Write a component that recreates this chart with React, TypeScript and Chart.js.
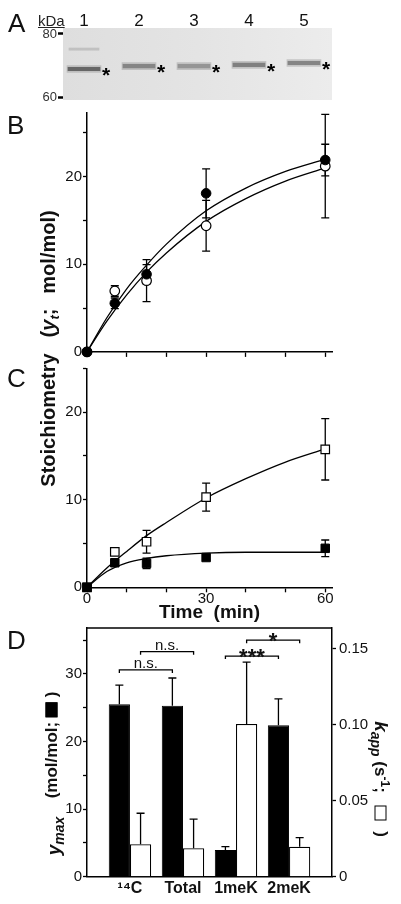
import React, { useEffect, useRef } from 'react';
import { Chart, registerables } from 'chart.js';

Chart.register(...registerables);

const FONT = "Arial, 'Liberation Sans', Helvetica, sans-serif";
Chart.defaults.font.family = FONT;

// ---------- Panel A (gel) ----------
const laneNumbers = [1, 2, 3, 4, 5];
const bandKDa = [68.9, 69.8, 69.8, 70.2, 70.8];
const faintBandLanes = [1];
const faintBandKDa = [75.2];
const kDaTicks = [60, 80];

// ---------- Panel B ----------
const timePointsB = [0, 7, 15, 30, 60];
const c14Stoich = [0, 5.55, 8.86, 18.1, 21.9];
const c14StoichErr = [0, 0.6, 1.1, 2.8, 1.8];
const totalStoich = [0, 6.95, 8.13, 14.4, 21.2];
const totalStoichErr = [0, 0.6, 2.4, 2.9, 5.9];
const fitTimes = [0, 5, 10, 15, 20, 30, 40, 50, 60];
const c14Fit = [0, 3.9, 7.2, 9.9, 12.3, 16.1, 18.7, 20.6, 22.0];
const totalFit = [0, 3.5, 6.5, 9.1, 11.3, 14.9, 17.5, 19.5, 21.0];

// ---------- Panel C ----------
const timePointsC = [0, 7, 15, 30, 60];
const meK2Stoich = [0, 4.05, 5.2, 10.3, 15.75];
const meK2StoichErr = [0, 0.2, 1.3, 1.6, 3.5];
const meK1Stoich = [0, 2.8, 2.73, 3.4, 4.45];
const meK1StoichErr = [0, 0.2, 0.6, 0.3, 0.95];
const meK2Fit = [0, 2.2, 4.1, 5.9, 7.4, 10.2, 12.4, 14.3, 15.8];
const meK1Fit = [0, 1.8, 2.8, 3.3, 3.6, 3.9, 4.0, 4.0, 4.0];

// shared tick values
const timeTicks = [0, 10, 20, 30, 40, 50, 60];
const stoichTicks = [0, 5, 10, 15, 20, 25];

// ---------- Panel D ----------
const dCategories = ['¹⁴C', 'Total', '1meK', '2meK'];
const yMaxValues = [25.5, 25.3, 3.95, 22.4];
const yMaxErr = [2.85, 4.1, 0.5, 3.9];
const kAppValues = [0.0213, 0.0187, 0.1003, 0.0197];
const kAppErr = [0.0204, 0.0191, 0.0407, 0.006];
const yMaxTicks = [0, 5, 10, 15, 20, 25, 30, 35];
const kAppTicks = [0, 0.05, 0.1, 0.15];
const bracketFrom = [0, 0, 2, 2];
const bracketTo = [1, 1, 3, 3];
const bracketSeries = [0, 1, 0, 1];
const bracketLevel = [30.6, 33.3, 32.65, 35.0];
const bracketLabels = ['n.s.', 'n.s.', '***', '*'];

// ---------- helpers ----------
const toXY = (xs: number[], ys: number[]) => xs.map((x, i) => ({ x, y: ys[i] }));
const noPad = (s: any) => {
  s.paddingTop = 0;
  s.paddingBottom = 0;
  s.paddingLeft = 0;
  s.paddingRight = 0;
};
const fixWidth = (w: number) => (s: any) => {
  s.width = w;
  noPad(s);
};
const fixHeight = (h: number) => (s: any) => {
  s.height = h;
  noPad(s);
};
const setTicks = (vals: number[]) => (s: any) => {
  s.ticks = vals.map((v) => ({ value: v }));
};
const tenLabels = (v: any) => (Math.abs(v % 10) < 1e-9 ? String(v) : '');

const axisGrid = (len: number) => ({
  display: true,
  drawOnChartArea: false,
  drawTicks: true,
  tickLength: len,
  tickWidth: 1.3,
  tickColor: '#000',
  color: '#000',
});
const axisBorder = { display: true, color: '#000', width: 1.5 };

function errorBarPlugin(id: string, layer: 'before' | 'after') {
  const draw = (chart: any) => {
    const ctx = chart.ctx;
    chart.data.datasets.forEach((ds: any, di: number) => {
      if (!ds.errors) return;
      const meta = chart.getDatasetMeta(di);
      const yScale = chart.scales[meta.yAxisID];
      ctx.save();
      ctx.strokeStyle = '#000';
      ctx.lineWidth = 1.3;
      const cap = 4;
      meta.data.forEach((el: any, i: number) => {
        const e = ds.errors[i];
        if (!e) return;
        const raw = ds.data[i];
        const v = typeof raw === 'number' ? raw : raw.y;
        const top = yScale.getPixelForValue(v + e);
        const bottom = yScale.getPixelForValue(ds.upOnly ? v : v - e);
        const x = el.x;
        ctx.beginPath();
        ctx.moveTo(x, top);
        ctx.lineTo(x, bottom);
        ctx.moveTo(x - cap, top);
        ctx.lineTo(x + cap, top);
        if (!ds.upOnly) {
          ctx.moveTo(x - cap, bottom);
          ctx.lineTo(x + cap, bottom);
        }
        ctx.stroke();
      });
      ctx.restore();
    });
  };
  return layer === 'before'
    ? { id, beforeDatasetsDraw: draw }
    : { id, afterDatasetsDraw: draw };
}

const gelPlugin = {
  id: 'gelBackground',
  beforeDatasetsDraw(chart: any) {
    const { ctx, chartArea: a } = chart;
    ctx.save();
    const g = ctx.createLinearGradient(a.left, 0, a.right, 0);
    g.addColorStop(0, '#dedede');
    g.addColorStop(0.5, '#e4e4e4');
    g.addColorStop(1, '#ececec');
    ctx.fillStyle = g;
    ctx.fillRect(a.left, a.top, a.right - a.left, a.bottom - a.top);
    ctx.restore();
  },
  afterDatasetsDraw(chart: any) {
    const ctx = chart.ctx;
    const meta = chart.getDatasetMeta(1);
    ctx.save();
    ctx.fillStyle = '#000';
    ctx.font = `bold 21px ${FONT}`;
    ctx.textAlign = 'left';
    ctx.textBaseline = 'alphabetic';
    meta.data.forEach((el: any) => {
      const cy = (el.y + el.base) / 2;
      ctx.fillText('*', el.x + el.width / 2 + 2, cy + 13);
    });
    ctx.restore();
  },
};

const boxTopPlugin = {
  id: 'boxTop',
  afterDraw(chart: any) {
    const { ctx, chartArea: a } = chart;
    ctx.save();
    ctx.strokeStyle = '#000';
    ctx.lineWidth = 1.5;
    ctx.beginPath();
    ctx.moveTo(a.left, a.top);
    ctx.lineTo(a.right, a.top);
    ctx.stroke();
    ctx.restore();
  },
};

const bracketPlugin = {
  id: 'sigBrackets',
  afterDatasetsDraw(chart: any) {
    const ctx = chart.ctx;
    const yScale = chart.scales.y;
    ctx.save();
    ctx.strokeStyle = '#000';
    ctx.fillStyle = '#111';
    ctx.lineWidth = 1.3;
    bracketLabels.forEach((label, k) => {
      const meta = chart.getDatasetMeta(bracketSeries[k]);
      const x1 = meta.data[bracketFrom[k]].x;
      const x2 = meta.data[bracketTo[k]].x;
      const y = yScale.getPixelForValue(bracketLevel[k]);
      ctx.beginPath();
      ctx.moveTo(x1, y + 3);
      ctx.lineTo(x1, y);
      ctx.lineTo(x2, y);
      ctx.lineTo(x2, y + 3);
      ctx.stroke();
      const star = label.includes('*');
      ctx.font = star ? `bold 22px ${FONT}` : `15px ${FONT}`;
      ctx.textAlign = 'center';
      ctx.textBaseline = 'alphabetic';
      ctx.fillText(label, (x1 + x2) / 2, star ? y + 7.5 : y - 2);
    });
    ctx.restore();
  },
};

const baseOptions = {
  responsive: false,
  maintainAspectRatio: false,
  animation: false as const,
  events: [] as any[],
};
const noLegend = { legend: { display: false }, tooltip: { enabled: false } };

function configA(): any {
  return {
    type: 'bar',
    data: {
      datasets: [
        {
          label: 'halo',
          data: laneNumbers.map((l, i) => ({ x: l, y: [bandKDa[i] - 1.1, bandKDa[i] + 1.1] })),
          backgroundColor: 'rgba(150,150,150,0.45)',
          barThickness: 34,
          grouped: false,
          order: 2,
        },
        {
          label: 'band',
          data: laneNumbers.map((l, i) => ({ x: l, y: [bandKDa[i] - 0.55, bandKDa[i] + 0.55] })),
          backgroundColor: ['#666', '#858585', '#959595', '#808080', '#858585'],
          barThickness: 32,
          grouped: false,
          order: 1,
        },
        {
          label: 'faint',
          data: faintBandLanes.map((l, i) => ({ x: l, y: [faintBandKDa[i] - 0.35, faintBandKDa[i] + 0.35] })),
          backgroundColor: 'rgba(180,180,180,0.7)',
          barThickness: 30,
          grouped: false,
          order: 3,
        },
      ],
    },
    options: {
      ...baseOptions,
      layout: { padding: { left: 0, right: 69, top: 0, bottom: 10 }, autoPadding: false },
      plugins: noLegend,
      scales: {
        x: {
          type: 'linear',
          position: 'top',
          min: 0.618,
          max: 5.51,
          offset: false,
          afterBuildTicks: setTicks(laneNumbers),
          afterFit: fixHeight(28),
          grid: { display: false, drawTicks: false, offset: false },
          border: { display: false },
          ticks: { autoSkip: false, maxRotation: 0, font: { size: 17, lineHeight: 1 }, color: '#111', padding: -2, callback: (v: any) => String(v) },
        },
        y: {
          min: 59.05,
          max: 81.9,
          afterBuildTicks: setTicks(kDaTicks),
          afterFit: fixWidth(63),
          grid: { display: true, drawOnChartArea: false, tickLength: 5, tickWidth: 2.5, tickColor: '#000', color: '#000' },
          border: { display: false },
          ticks: { autoSkip: false, font: { size: 13, lineHeight: 1 }, color: '#333', padding: 1 },
        },
      },
    },
    plugins: [gelPlugin],
  };
}

function configB(): any {
  return {
    type: 'scatter',
    data: {
      datasets: [
        { label: '14C', data: toXY(timePointsB, c14Stoich), errors: c14StoichErr, pointStyle: 'circle', pointRadius: 4.8, backgroundColor: '#000', borderColor: '#000', borderWidth: 1, order: 0, clip: false },
        { label: 'Total', data: toXY(timePointsB, totalStoich), errors: totalStoichErr, pointStyle: 'circle', pointRadius: 4.8, backgroundColor: '#fff', borderColor: '#000', borderWidth: 1.2, order: 1, clip: false },
        { label: '14C fit', data: toXY(fitTimes, c14Fit), showLine: true, pointRadius: 0, borderColor: '#000', borderWidth: 1.3, cubicInterpolationMode: 'monotone', order: 2, clip: false },
        { label: 'Total fit', data: toXY(fitTimes, totalFit), showLine: true, pointRadius: 0, borderColor: '#000', borderWidth: 1.3, cubicInterpolationMode: 'monotone', order: 3, clip: false },
      ],
    },
    options: {
      ...baseOptions,
      layout: { padding: { left: 0, right: 69, top: 12.7, bottom: 0 }, autoPadding: false },
      plugins: noLegend,
      scales: {
        x: {
          type: 'linear',
          min: 0,
          max: 61.7,
          afterBuildTicks: setTicks(timeTicks),
          afterFit: fixHeight(8.1),
          grid: axisGrid(5),
          border: axisBorder,
          ticks: { autoSkip: false, maxRotation: 0, callback: () => '', padding: 0 },
        },
        y: {
          type: 'linear',
          min: 0,
          max: 27.3,
          afterBuildTicks: setTicks(stoichTicks),
          afterFit: fixWidth(87),
          grid: axisGrid(4),
          border: axisBorder,
          ticks: { autoSkip: false, font: { size: 15, lineHeight: 1 }, color: '#111', padding: 1, callback: tenLabels },
        },
      },
    },
    plugins: [errorBarPlugin('errB', 'before')],
  };
}

function configC(): any {
  return {
    type: 'scatter',
    data: {
      datasets: [
        { label: '1meK', data: toXY(timePointsC, meK1Stoich), errors: meK1StoichErr, pointStyle: 'rect', pointRadius: 6, backgroundColor: '#000', borderColor: '#000', borderWidth: 1, order: 0, clip: false },
        { label: '2meK', data: toXY(timePointsC, meK2Stoich), errors: meK2StoichErr, pointStyle: 'rect', pointRadius: 6, backgroundColor: '#fff', borderColor: '#000', borderWidth: 1.2, order: 1, clip: false },
        { label: '2meK fit', data: toXY(fitTimes, meK2Fit), showLine: true, pointRadius: 0, borderColor: '#000', borderWidth: 1.3, cubicInterpolationMode: 'monotone', order: 2, clip: false },
        { label: '1meK fit', data: toXY(fitTimes, meK1Fit), showLine: true, pointRadius: 0, borderColor: '#000', borderWidth: 1.3, cubicInterpolationMode: 'monotone', order: 3, clip: false },
      ],
    },
    options: {
      ...baseOptions,
      layout: { padding: { left: 0, right: 69, top: 8.3, bottom: 0 }, autoPadding: false },
      plugins: noLegend,
      scales: {
        x: {
          type: 'linear',
          min: 0,
          max: 61.7,
          afterBuildTicks: setTicks(timeTicks),
          afterFit: fixHeight(34.7),
          grid: axisGrid(5),
          border: axisBorder,
          title: { display: true, text: 'Time  (min)', font: { size: 19, weight: 'bold', lineHeight: 1 }, color: '#111', padding: { top: 0, bottom: 0 } },
          ticks: { autoSkip: false, maxRotation: 0, font: { size: 15, lineHeight: 1 }, color: '#111', padding: -1, callback: (v: any) => (v % 30 === 0 ? String(v) : '') },
        },
        y: {
          type: 'linear',
          min: 0,
          max: 25,
          afterBuildTicks: setTicks(stoichTicks),
          afterFit: fixWidth(87),
          grid: axisGrid(4),
          border: axisBorder,
          ticks: { autoSkip: false, font: { size: 15, lineHeight: 1 }, color: '#111', padding: 1, callback: tenLabels },
        },
      },
    },
    plugins: [errorBarPlugin('errC', 'before')],
  };
}

function configD(): any {
  const pos = dCategories.map((_, i) => i + 1);
  return {
    type: 'bar',
    data: {
      datasets: [
        { label: 'y_max', data: toXY(pos, yMaxValues), errors: yMaxErr, upOnly: true, yAxisID: 'y', backgroundColor: '#000', borderColor: '#000', borderWidth: 1, categoryPercentage: 0.8, barPercentage: 1 },
        { label: 'k_app', data: toXY(pos, kAppValues), errors: kAppErr, upOnly: true, yAxisID: 'y2', backgroundColor: '#fff', borderColor: '#000', borderWidth: 1.2, categoryPercentage: 0.8, barPercentage: 1 },
      ],
    },
    options: {
      ...baseOptions,
      layout: { padding: { left: 0, right: 0, top: 8, bottom: 0 }, autoPadding: false },
      plugins: noLegend,
      scales: {
        x: {
          type: 'linear',
          min: 0.19,
          max: 4.81,
          offset: false,
          afterBuildTicks: setTicks(pos),
          afterFit: fixHeight(27.3),
          grid: { display: false, drawTicks: false, offset: false },
          border: axisBorder,
          ticks: { autoSkip: false, maxRotation: 0, font: { size: 16, weight: 'bold', lineHeight: 1 }, color: '#111', padding: 4, callback: (v: any) => dCategories[Math.round(v) - 1] },
        },
        y: {
          type: 'linear',
          position: 'left',
          min: 0,
          max: 36.8,
          afterBuildTicks: setTicks(yMaxTicks),
          afterFit: fixWidth(87),
          grid: axisGrid(4),
          border: axisBorder,
          ticks: { autoSkip: false, font: { size: 15, lineHeight: 1 }, color: '#111', padding: 1, callback: tenLabels },
        },
        y2: {
          type: 'linear',
          position: 'right',
          min: 0,
          max: 0.1634,
          afterBuildTicks: setTicks(kAppTicks),
          afterFit: fixWidth(69),
          grid: axisGrid(4),
          border: axisBorder,
          ticks: { autoSkip: false, font: { size: 15, lineHeight: 1 }, color: '#111', padding: 3, callback: (v: any) => (v === 0 ? '0' : Number(v).toFixed(2)) },
        },
      },
    },
    plugins: [errorBarPlugin('errD', 'after'), bracketPlugin, boxTopPlugin],
  };
}

const RotText = ({ cx, cy, rot, size, weight, children }: any) => (
  <div
    style={{
      position: 'absolute',
      left: cx,
      top: cy,
      transform: `translate(-50%, -50%) rotate(${rot}deg)`,
      whiteSpace: 'nowrap',
      fontSize: size,
      fontWeight: weight ?? 'bold',
      lineHeight: 1,
      fontFamily: FONT,
      color: '#111',
    }}
  >
    {children}
  </div>
);

const Letter = ({ left, top, children }: any) => (
  <div style={{ position: 'absolute', left, top, fontSize: 26, lineHeight: 1, fontFamily: FONT, color: '#111' }}>{children}</div>
);

const keyBox = (fill: string) => (
  <span
    style={{
      display: 'inline-block',
      width: 15,
      height: 12,
      background: fill,
      border: '1.3px solid #000',
      verticalAlign: '-1px',
      boxSizing: 'border-box',
    }}
  />
);

export default function App() {
  const refA = useRef<HTMLCanvasElement>(null);
  const refB = useRef<HTMLCanvasElement>(null);
  const refC = useRef<HTMLCanvasElement>(null);
  const refD = useRef<HTMLCanvasElement>(null);

  useEffect(() => {
    const charts: Chart[] = [];
    if (refA.current) charts.push(new Chart(refA.current, configA()));
    if (refB.current) charts.push(new Chart(refB.current, configB()));
    if (refC.current) charts.push(new Chart(refC.current, configC()));
    if (refD.current) charts.push(new Chart(refD.current, configD()));
    return () => charts.forEach((c) => c.destroy());
  }, []);

  const cv = (top: number): React.CSSProperties => ({ position: 'absolute', left: 0, top, display: 'block' });

  return (
    <div style={{ position: 'absolute', left: 0, top: 0, width: 401, height: 904, background: '#fff', overflow: 'hidden', fontFamily: FONT }}>
      <canvas ref={refA} width={401} height={110} style={cv(0)} />
      <canvas ref={refB} width={401} height={260} style={cv(100)} />
      <canvas ref={refC} width={401} height={262} style={cv(360)} />
      <canvas ref={refD} width={401} height={284} style={cv(620)} />

      <Letter left={8} top={9.6}>A</Letter>
      <Letter left={7} top={111.6}>B</Letter>
      <Letter left={7} top={364.6}>C</Letter>
      <Letter left={7} top={626.6}>D</Letter>

      <div style={{ position: 'absolute', left: 38, top: 12.8, fontSize: 15, lineHeight: 1, fontFamily: FONT, color: '#222', textDecoration: 'underline' }}>kDa</div>

      <RotText cx={48} cy={420} rot={-90} size={20}>Stoichiometry</RotText>
      <RotText cx={48} cy={323} rot={-90} size={20}>
        (<i>y</i>
        <i style={{ fontSize: 13, position: 'relative', top: 4 }}>t</i>;
      </RotText>
      <RotText cx={48} cy={251.5} rot={-90} size={20}>mol/mol)</RotText>

      <RotText cx={53} cy={836} rot={-90} size={19}>
        <i>y</i>
        <i style={{ fontSize: 14, position: 'relative', top: 4 }}>max</i>
      </RotText>
      <RotText cx={51} cy={745} rot={-90} size={17}>
        (mol/mol; {keyBox('#000')} )
      </RotText>

      <RotText cx={381} cy={756.5} rot={90} size={17}>
        <i style={{ fontSize: 19 }}>k</i>
        <i style={{ fontSize: 14, position: 'relative', top: 4 }}>app</i> (s
        <span style={{ fontSize: 12, position: 'relative', top: -6 }}>-1</span>;
      </RotText>
      <RotText cx={381} cy={813} rot={90} size={17}>
        {keyBox('#fff')}
      </RotText>
      <RotText cx={381} cy={834} rot={90} size={17}>)</RotText>
    </div>
  );
}
